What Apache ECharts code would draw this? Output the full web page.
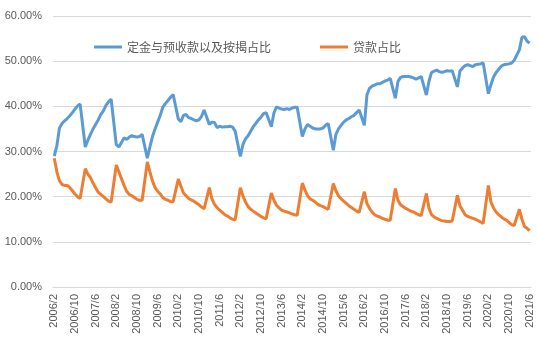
<!DOCTYPE html>
<html>
<head>
<meta charset="utf-8">
<script src="https://cdn.jsdelivr.net/npm/echarts@6/dist/echarts.min.js"></script>
<style>
    html, body { margin: 0; padding: 0; background: #fff; }
    #chart { width: 538px; height: 351px; }
</style>
</head>
<body>
<div id="chart"></div>
<script>
    // 月份 2006/2 - 2021/6 (1月数据不公布, 用 null)
    var firstYear = 2006, firstMonth = 2, lastYear = 2021, lastMonth = 6;
    var seriesNames = ['定金与预收款以及按揭占比', '贷款占比'];

    // 定金与预收款以及按揭占比 (%)
    var depositShare = [
        29.0, 31.3, 35.2, 36.2, 36.8, 37.3, 37.9, 38.6, 39.4, 40.1, 40.5,            // 2006
        null, 31.0, 32.5, 33.8, 35.0, 36.0, 37.0, 38.2, 39.0, 40.2, 41.0, 41.6,      // 2007
        null, 31.5, 31.0, 32.0, 33.0, 32.7, 33.2, 33.5, 33.3, 33.2, 33.3, 33.8,      // 2008
        null, 28.5, 31.0, 33.3, 35.0, 36.5, 38.0, 39.8, 40.6, 41.3, 42.0, 42.6,      // 2009
        null, 37.2, 36.6, 38.0, 38.2, 37.5, 37.3, 37.0, 36.8, 37.0, 37.8, 39.2,      // 2010
        null, 36.0, 36.5, 36.4, 35.3, 35.6, 35.4, 35.5, 35.5, 35.6, 35.4, 34.5,      // 2011
        null, 28.9, 31.5, 32.8, 33.5, 34.5, 35.5, 36.2, 37.0, 37.6, 38.4, 38.6,      // 2012
        null, 35.5, 38.5, 39.9, 39.6, 39.4, 39.3, 39.5, 39.3, 39.6, 39.8, 39.8,      // 2013
        null, 33.3, 35.0, 36.0, 35.6, 35.2, 35.0, 35.0, 35.0, 35.2, 35.8, 36.2,      // 2014
        null, 30.3, 33.8, 35.0, 35.8, 36.5, 37.0, 37.3, 37.7, 38.0, 38.6, 39.2,      // 2015
        null, 35.8, 42.5, 44.0, 44.5, 44.7, 45.0, 45.0, 45.3, 45.6, 45.8, 46.2,      // 2016
        null, 41.8, 45.5, 46.4, 46.6, 46.6, 46.6, 46.5, 46.3, 46.0, 46.3, 46.6,      // 2017
        null, 42.5, 45.5, 47.5, 47.8, 48.0, 47.7, 47.5, 47.7, 47.9, 47.8, 47.9,      // 2018
        null, 44.3, 47.8, 48.5, 49.0, 49.2, 49.0, 48.8, 49.2, 49.3, 49.4, 49.6,      // 2019
        null, 42.8, 44.8, 46.5, 47.5, 48.2, 48.9, 49.2, 49.3, 49.4, 49.6, 50.2,      // 2020
        null, 52.5, 55.3, 55.4, 54.4, 54.0                                           // 2021
    ];

    // 贷款占比 (%)
    var loanShare = [
        28.5, 25.5, 23.5, 22.7, 22.5, 22.5, 22.0, 21.3, 20.6, 20.0, 19.6,            // 2006
        null, 26.2, 25.0, 24.2, 23.0, 22.0, 21.0, 20.5, 20.0, 19.5, 19.0, 18.8,      // 2007
        null, 27.0, 25.5, 24.0, 22.5, 21.2, 20.5, 20.2, 19.8, 19.4, 19.2, 19.2,      // 2008
        null, 27.7, 25.5, 23.5, 22.0, 21.2, 20.6, 19.8, 19.4, 19.2, 18.9, 18.9,      // 2009
        null, 23.9, 22.3, 20.8, 20.2, 19.6, 19.3, 19.0, 18.6, 18.2, 17.7, 17.3,      // 2010
        null, 22.0, 19.5, 18.3, 17.6, 17.0, 16.5, 16.0, 15.7, 15.3, 15.0, 14.9,      // 2011
        null, 22.0, 20.2, 18.8, 17.8, 17.2, 16.8, 16.4, 16.0, 15.6, 15.3, 15.1,      // 2012
        null, 20.8, 19.2, 18.1, 17.5, 17.0, 16.8, 16.6, 16.4, 16.2, 16.0, 15.9,      // 2013
        null, 23.0, 21.5, 20.2, 19.5, 19.2, 18.8, 18.3, 18.0, 17.8, 17.5, 17.2,      // 2014
        null, 22.9, 21.3, 20.2, 19.5, 19.0, 18.5, 18.0, 17.6, 17.2, 16.8, 16.5,      // 2015
        null, 21.1, 18.5, 17.4, 16.6, 16.0, 15.7, 15.5, 15.2, 15.0, 14.8, 14.8,      // 2016
        null, 21.8, 19.2, 18.2, 17.8, 17.4, 17.1, 16.8, 16.6, 16.3, 16.0, 15.8,      // 2017
        null, 20.7, 17.5, 16.0, 15.5, 15.2, 14.9, 14.7, 14.6, 14.5, 14.5, 14.6,      // 2018
        null, 20.3, 18.0, 17.0, 16.0, 15.6, 15.4, 15.2, 15.0, 14.7, 14.4, 14.1,      // 2019
        null, 22.5, 18.8, 17.5, 16.6, 16.0, 15.5, 15.1, 14.8, 14.3, 13.8, 13.6,      // 2020
        null, 17.2, 15.0, 13.4, 13.0, 12.5                                           // 2021
    ];

    // x轴类目
    var months = [];
    for (var y = firstYear; y <= lastYear; y++) {
        for (var m = 1; m <= 12; m++) {
            if (y === firstYear && m < firstMonth) continue;
            if (y === lastYear && m > lastMonth) break;
            months.push(y + '/' + m);
        }
    }

    var textColor = '#595959';
    var gridColor = '#d9d9d9';
    var myChart = echarts.init(document.getElementById('chart'));
    myChart.setOption({
        animation: false,
        color: ['#5b9bd5', '#ed7d31'],
        textStyle: { fontFamily: '"Noto Sans CJK SC", "Noto Sans", sans-serif' },
        //顶部图例, 只画线段
        legend: {
            top: 36,
            left: 89,
            icon: 'rect',
            itemWidth: 28,
            itemHeight: 3,
            itemGap: 49,
            textStyle: { color: textColor, fontSize: 12 },
            data: seriesNames
        },
        grid: { left: 53, right: 7, top: 16, bottom: 64 },
        xAxis: {
            type: 'category',
            data: months,
            boundaryGap: true,
            axisLine: { lineStyle: { color: gridColor } },
            axisTick: { show: false },
            axisLabel: {
                interval: 7,
                rotate: 90,
                margin: 7,
                color: textColor,
                fontSize: 11,
                fontFamily: '"Liberation Sans", sans-serif'
            }
        },
        yAxis: {
            type: 'value',
            min: 0,
            max: 60,
            interval: 10,
            axisLine: { show: false },
            axisTick: { show: false },
            splitLine: { lineStyle: { color: gridColor, width: 1 } },
            axisLabel: {
                margin: 11,
                color: textColor,
                fontSize: 11,
                fontFamily: '"Liberation Sans", sans-serif',
                formatter: function (v) { return v.toFixed(2) + '%'; }
            }
        },
        series: [
            {
                name: seriesNames[0],
                type: 'line',
                data: depositShare,
                symbol: 'none',
                connectNulls: true,
                lineStyle: { width: 3 }
            },
            {
                name: seriesNames[1],
                type: 'line',
                data: loanShare,
                symbol: 'none',
                connectNulls: true,
                lineStyle: { width: 3 }
            }
        ]
    });
</script>
</body>
</html>
